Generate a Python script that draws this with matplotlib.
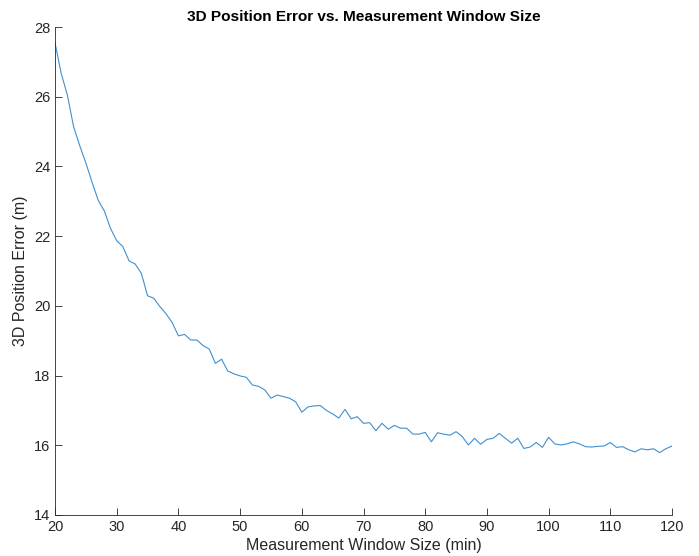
import matplotlib
matplotlib.use("Agg")
import matplotlib.pyplot as plt
import numpy as np

window_min = list(range(20, 121))
pos_error_m = [
    27.55, 26.67, 26.05, 25.15, 24.6, 24.1, 23.55, 23.03, 22.72, 22.22,
    21.87, 21.7, 21.29, 21.2, 20.93, 20.29, 20.22, 19.98, 19.77, 19.52,
    19.14, 19.18, 19.02, 19.02, 18.86, 18.76, 18.35, 18.47, 18.13, 18.05,
    17.99, 17.95, 17.73, 17.69, 17.59, 17.35, 17.44, 17.4, 17.35, 17.25,
    16.95, 17.1, 17.13, 17.14, 17.0, 16.9, 16.78, 17.03, 16.76, 16.82,
    16.63, 16.65, 16.42, 16.63, 16.46, 16.57, 16.49, 16.49, 16.32, 16.32,
    16.37, 16.1, 16.36, 16.32, 16.29, 16.39, 16.25, 16.01, 16.2, 16.03,
    16.17, 16.2, 16.34, 16.2, 16.06, 16.2, 15.91, 15.95, 16.08, 15.94,
    16.23, 16.04, 16.01, 16.04, 16.1, 16.04, 15.96, 15.95, 15.97, 15.98,
    16.08, 15.94, 15.96, 15.87, 15.81, 15.9, 15.87, 15.9, 15.79, 15.9,
    15.98,
]
x_ticks = [20, 30, 40, 50, 60, 70, 80, 90, 100, 110, 120]
y_ticks = [14, 16, 18, 20, 22, 24, 26, 28]

plt.rcParams['font.family'] = ['Liberation Sans', 'DejaVu Sans']

fig = plt.figure(figsize=(6.99, 5.56), dpi=100)
ax = fig.add_axes([55/699, 41/556, 617/699, 488/556])
ax.plot(window_min, pos_error_m, color='#3f90d0', linewidth=0.8)
ax.set_xlim(20, 120)
ax.set_ylim(14, 28)
ax.set_xticks(x_ticks)
ax.set_yticks(y_ticks)
gray = '#262626'
for s in ['top', 'right']:
    ax.spines[s].set_visible(False)
for s in ['left', 'bottom']:
    ax.spines[s].set_color(gray)
    ax.spines[s].set_linewidth(0.6)
ax.tick_params(direction='in', length=5, width=0.6, colors=gray, labelsize=10.5,
               labelcolor=gray)
ax.set_xlabel('Measurement Window Size (min)', fontsize=11.5, color=gray, labelpad=3)
ax.set_ylabel('3D Position Error (m)', fontsize=11.5, color=gray, labelpad=4)
ax.set_title('3D Position Error vs. Measurement Window Size', fontsize=11.1,
             fontweight='bold', color='black', pad=4)
fig.savefig('out.png', dpi=100)
